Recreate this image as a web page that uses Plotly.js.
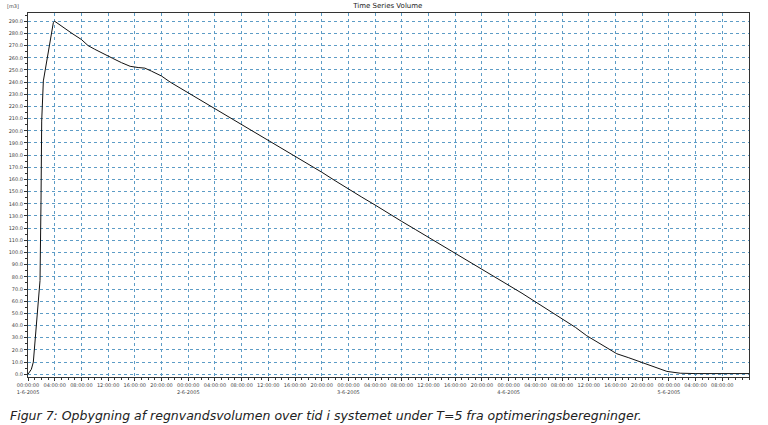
<!DOCTYPE html>
<html>
<head>
<meta charset="utf-8">
<script src="https://cdn.plot.ly/plotly-3.0.1.min.js"></script>
<style>html,body{margin:0;padding:0;background:#fff;}#chart{width:768px;height:425px;}</style>
</head>
<body>
<div id="chart"></div>
<script>
// Time stamps and volume [m3]
var times = [
  "2005-06-01 00:00","2005-06-01 00:30","2005-06-01 00:48","2005-06-01 01:18","2005-06-01 01:48",
  "2005-06-01 01:57","2005-06-01 02:03","2005-06-01 02:18","2005-06-01 02:48","2005-06-01 03:18",
  "2005-06-01 03:48","2005-06-01 04:00","2005-06-01 05:00","2005-06-01 06:00","2005-06-01 06:36",
  "2005-06-01 08:00","2005-06-01 09:00","2005-06-01 10:00","2005-06-01 11:00","2005-06-01 12:42",
  "2005-06-01 14:00","2005-06-01 15:18","2005-06-01 16:30","2005-06-01 17:30","2005-06-01 18:30",
  "2005-06-01 20:00","2005-06-01 21:18","2005-06-01 23:00","2005-06-02 00:36","2005-06-02 02:00",
  "2005-06-02 04:00","2005-06-02 06:00","2005-06-02 08:00","2005-06-02 10:00","2005-06-02 12:00",
  "2005-06-02 14:00","2005-06-02 16:00","2005-06-02 18:00","2005-06-02 20:00","2005-06-02 22:00",
  "2005-06-03 00:00","2005-06-03 02:00","2005-06-03 04:00","2005-06-03 06:00","2005-06-03 08:00",
  "2005-06-03 10:00","2005-06-03 12:00","2005-06-03 14:00","2005-06-03 16:00","2005-06-03 18:00",
  "2005-06-03 20:00","2005-06-03 22:00","2005-06-04 00:00","2005-06-04 02:00","2005-06-04 04:00",
  "2005-06-04 06:00","2005-06-04 08:00","2005-06-04 10:00","2005-06-04 11:42","2005-06-04 14:00",
  "2005-06-04 16:12","2005-06-04 18:00","2005-06-04 19:42","2005-06-04 22:00","2005-06-04 23:42",
  "2005-06-05 01:42","2005-06-05 04:00","2005-06-05 12:00"
];
var volume = [
  0, 4, 10, 43, 77,
  143, 208, 241, 258, 274,
  289, 290, 286, 282, 280,
  275, 270, 267, 264, 259.5,
  256, 253, 252, 251.5, 249,
  245, 240, 234.5, 229.5, 225,
  218.5, 212, 205.5, 199, 192,
  185.5, 179, 172.5, 166, 159,
  152, 145.5, 139, 132, 125.5,
  119, 112.5, 106, 99, 92.5,
  86, 79.5, 73, 66.5, 59.5,
  52.5, 45.5, 38.5, 31.6, 24.2,
  16.8, 13.5, 10, 5.5, 2.3,
  0.8, 0.5, 0.5
];

// Axis ticks
var dayLabels = ["1-6-2005","2-6-2005","3-6-2005","4-6-2005","5-6-2005"];
var dayDates = ["2005-06-01","2005-06-02","2005-06-03","2005-06-04","2005-06-05"];
var hourLabels = ["00:00:00","04:00:00","08:00:00","12:00:00","16:00:00","20:00:00"];
var yTickVals = [0,10,20,30,40,50,60,70,80,90,100,110,120,130,140,150,160,170,180,190,200,210,220,230,240,250,260,270,280,290];
var yTickText = yTickVals.map(function(v){ return v.toFixed(1); });

var xTickVals = [], xTickText = [];
dayDates.forEach(function(d, i){
  hourLabels.forEach(function(h, j){
    if (i === dayDates.length - 1 && j > 2) return;
    xTickVals.push(d + " " + h.slice(0,5));
    xTickText.push(j === 0 ? h + "<br>" + dayLabels[i] : h);
  });
});

var gridColor = "#5d9cc6";
var trace = {
  x: times, y: volume, type: "scatter", mode: "lines",
  line: {color: "#111", width: 1}, hoverinfo: "skip"
};

var layout = {
  width: 768, height: 425,
  margin: {l: 28, r: 19, t: 13, b: 48},
  paper_bgcolor: "#fff", plot_bgcolor: "#fff",
  showlegend: false,
  font: {family: "DejaVu Sans, Verdana, sans-serif", color: "#444", size: 5},
  title: {text: "Time Series Volume", font: {size: 7, color: "#222"},
          x: 0.505, xanchor: "center", y: 1 - 6/425, yref: "container", yanchor: "middle"},
  xaxis: {
    type: "date", range: ["2005-06-01 00:00", "2005-06-05 12:00"],
    tickmode: "array", tickvals: xTickVals, ticktext: xTickText,
    tickfont: {size: 5, color: "#444"}, tickangle: 0,
    ticks: "outside", ticklen: 3, tickcolor: "#333",
    minor: {dtick: 3600000, ticks: "outside", ticklen: 2, tickcolor: "#333", showgrid: false},
    showgrid: true, gridcolor: gridColor, griddash: "dot", gridwidth: 1,
    showline: true, linecolor: "#333", linewidth: 1, mirror: true,
    zeroline: false, automargin: false, fixedrange: true
  },
  yaxis: {
    range: [-2.3, 296.8],
    tickmode: "array", tickvals: yTickVals, ticktext: yTickText,
    tickfont: {size: 5, color: "#444"},
    ticks: "outside", ticklen: 3, tickcolor: "#333",
    minor: {tickvals: yTickVals.map(function(v){return v+5;}), ticks: "outside", ticklen: 2, tickcolor: "#333", showgrid: false},
    showgrid: true, gridcolor: gridColor, griddash: "dot", gridwidth: 1,
    showline: true, linecolor: "#333", linewidth: 1, mirror: true,
    zeroline: false, automargin: false, fixedrange: true
  },
  annotations: [
    {text: "[m3]", xref: "paper", yref: "paper", x: -15/721, y: (377.3-6)/364.6,
     xanchor: "center", yanchor: "middle", showarrow: false, font: {size: 5, color: "#444"}},
    {text: "<i>Figur 7: Opbygning af regnvandsvolumen over tid i systemet under T=5 fra optimeringsberegninger.</i>",
     xref: "paper", yref: "paper", x: -20/721, y: (377.3-416)/364.6,
     xanchor: "left", yanchor: "middle", showarrow: false,
     font: {family: "DejaVu Sans, Verdana, sans-serif", size: 12.5, color: "#222"}}
  ]
};

Plotly.newPlot("chart", [trace], layout, {displayModeBar: false, staticPlot: true});
</script>
</body>
</html>
